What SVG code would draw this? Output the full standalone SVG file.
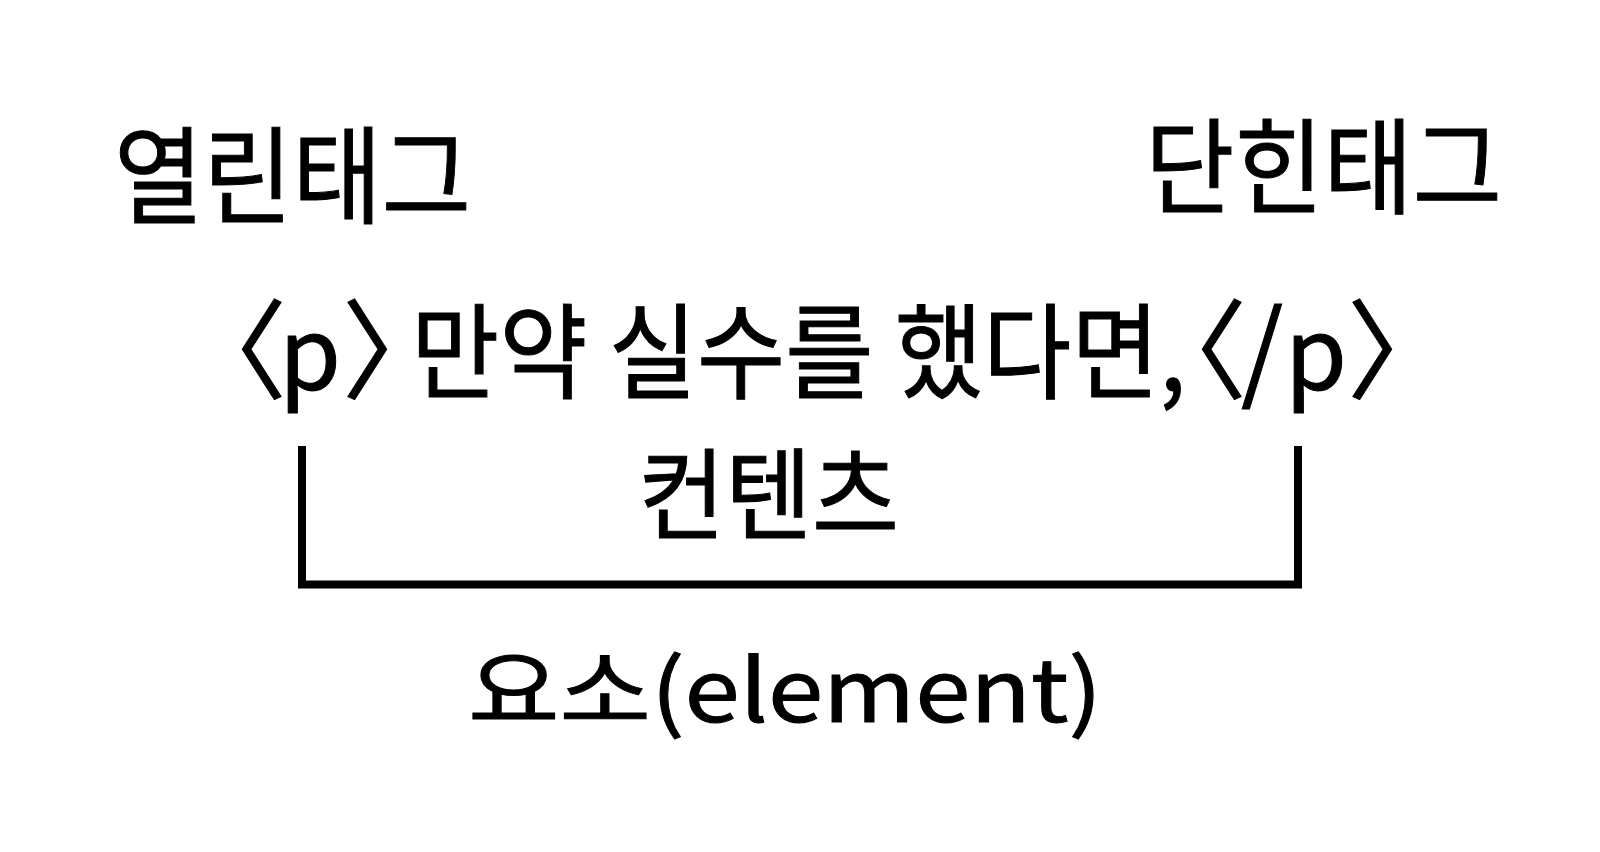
<svg xmlns="http://www.w3.org/2000/svg" width="1600" height="852" viewBox="0 0 1600 852">
<style>
text { font-family: "Noto Sans CJK KR", "Noto Sans", sans-serif; fill: #000; stroke: #000; stroke-width: 1; font-weight: 400; }
.conn { fill: none; stroke: #000; stroke-width: 8; stroke-linejoin: miter; }
.br { font-size: 108px; font-feature-settings: "palt" 1; letter-spacing: -18px; }
.sl { font-size: 108px; letter-spacing: -12px; }
.pp { font-size: 100px; }
</style>
<rect width="1600" height="852" fill="#fff"/>
<g id="open-tag">
<text x="114" y="215" font-size="106" textLength="357" lengthAdjust="spacingAndGlyphs">열린태그</text>
</g>
<g id="close-tag">
<text x="1145" y="206" font-size="104" textLength="357" lengthAdjust="spacingAndGlyphs">단힌태그</text>
</g>
<g id="code-line">
<text y="390"><tspan class="br" x="230">〈</tspan><tspan class="pp" x="279">p</tspan><tspan class="br" x="345">〉</tspan><tspan x="411" y="391" font-size="104" textLength="775" lengthAdjust="spacingAndGlyphs">만약 실수를 했다면,</tspan><tspan class="br" x="1190" y="390">〈</tspan><tspan class="sl" x="1241">/</tspan><tspan class="pp" x="1285">p</tspan><tspan class="br" x="1350">〉</tspan></text>
</g>
<g id="content">
<text x="638" y="532" font-size="100" textLength="261" lengthAdjust="spacingAndGlyphs">컨텐츠</text>
</g>
<g id="element">
<text x="468" y="722" font-size="86" textLength="634" lengthAdjust="spacingAndGlyphs">요소(element)</text>
</g>
<g id="connectors">
<path class="conn" d="M302,446 V584.5 H1298 V446"/>
</g>
</svg>
